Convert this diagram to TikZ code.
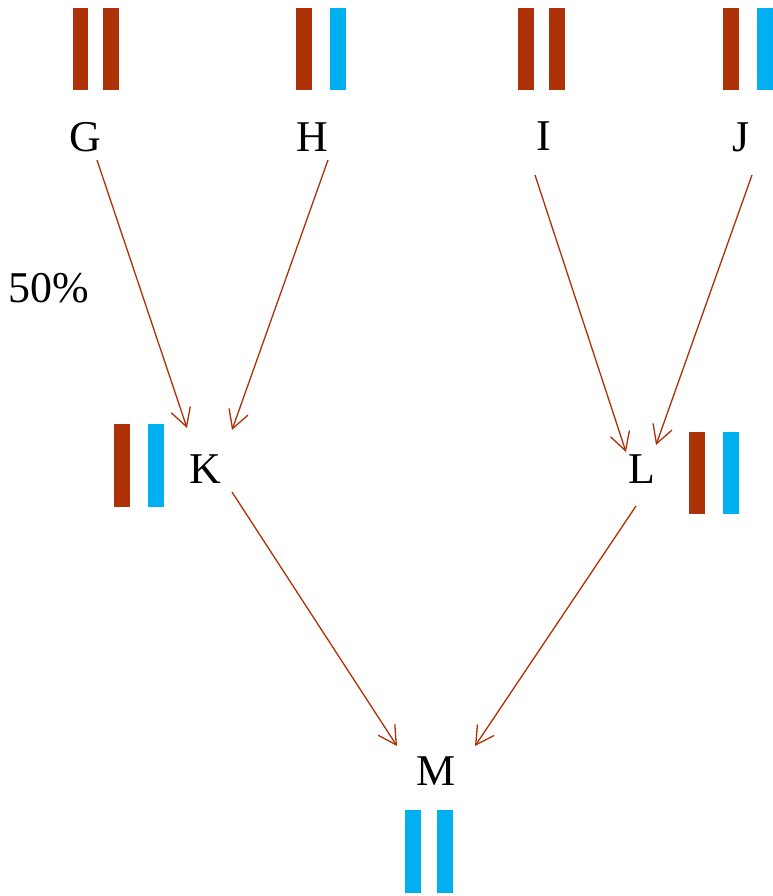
\documentclass[tikz,border=0pt]{standalone}
\usepackage{fontspec}
\setmainfont{Liberation Serif}
\usepackage{tikz}
\usetikzlibrary{arrows.meta}
\definecolor{allelebrown}{RGB}{174,50,8}
\definecolor{alleleblue}{RGB}{0,176,240}
\tikzset{
    person/.style={inner sep=0pt, text height=17pt, text depth=0pt, font=\fontsize{25}{30}\selectfont},
    bar/.style={rectangle, inner sep=0pt, minimum width=0.32cm, minimum height=1.66cm},
    inherit/.style={draw=allelebrown, line width=0.75pt, -{Straight Barb[length=0.36cm,width=0.4cm]}},
}

\begin{document}
\begin{tikzpicture}[x=0.02cm, y=-0.02cm]
        \useasboundingbox (0,0) rectangle (772,896);
        % people
        \node[person] (g) at (85,137) {G};
        \node[person] (h) at (312,137) {H};
        \node[person] (i) at (544,136) {I};
        \node[person] (j) at (741,137) {J};
        \node[person] (k) at (205,469) {K};
        \node[person] (l) at (642,469) {L};
        \node[person] (m) at (436,771) {M};
        \node[person] (pct) at (49,288) {50\%};
        % chromosome pairs
        \node[bar, fill=allelebrown] (g1) at (80.5,49) {};
        \node[bar, fill=allelebrown] (g2) at (111,49) {};
        \node[bar, fill=allelebrown] (h1) at (304,49) {};
        \node[bar, fill=alleleblue] (h2) at (338,49) {};
        \node[bar, fill=allelebrown] (i1) at (525.5,49) {};
        \node[bar, fill=allelebrown] (i2) at (557,49) {};
        \node[bar, fill=allelebrown] (j1) at (731,49) {};
        \node[bar, fill=alleleblue] (j2) at (765,49) {};
        \node[bar, fill=allelebrown] (k1) at (122,465.5) {};
        \node[bar, fill=alleleblue] (k2) at (156,465.5) {};
        \node[bar, fill=allelebrown] (l1) at (696.5,473) {};
        \node[bar, fill=alleleblue] (l2) at (731,473) {};
        \node[bar, fill=alleleblue] (m1) at (413,851) {};
        \node[bar, fill=alleleblue] (m2) at (445,851) {};
        % inheritance
        \draw[inherit] ([shift={(12,23)}]g.center) -- ([shift={(-18,-41)}]k.center);
        \draw[inherit] ([shift={(16,23)}]h.center) -- ([shift={(27,-39)}]k.center);
        \draw[inherit] ([shift={(-9,39)}]i.center) -- ([shift={(-16,-17)}]l.center);
        \draw[inherit] ([shift={(11,38)}]j.center) -- ([shift={(14,-24)}]l.center);
        \draw[inherit] ([shift={(27,23)}]k.center) -- ([shift={(-39,-25)}]m.center);
        \draw[inherit] ([shift={(-6,37)}]l.center) -- ([shift={(39,-25)}]m.center);
\end{tikzpicture}
\end{document}
